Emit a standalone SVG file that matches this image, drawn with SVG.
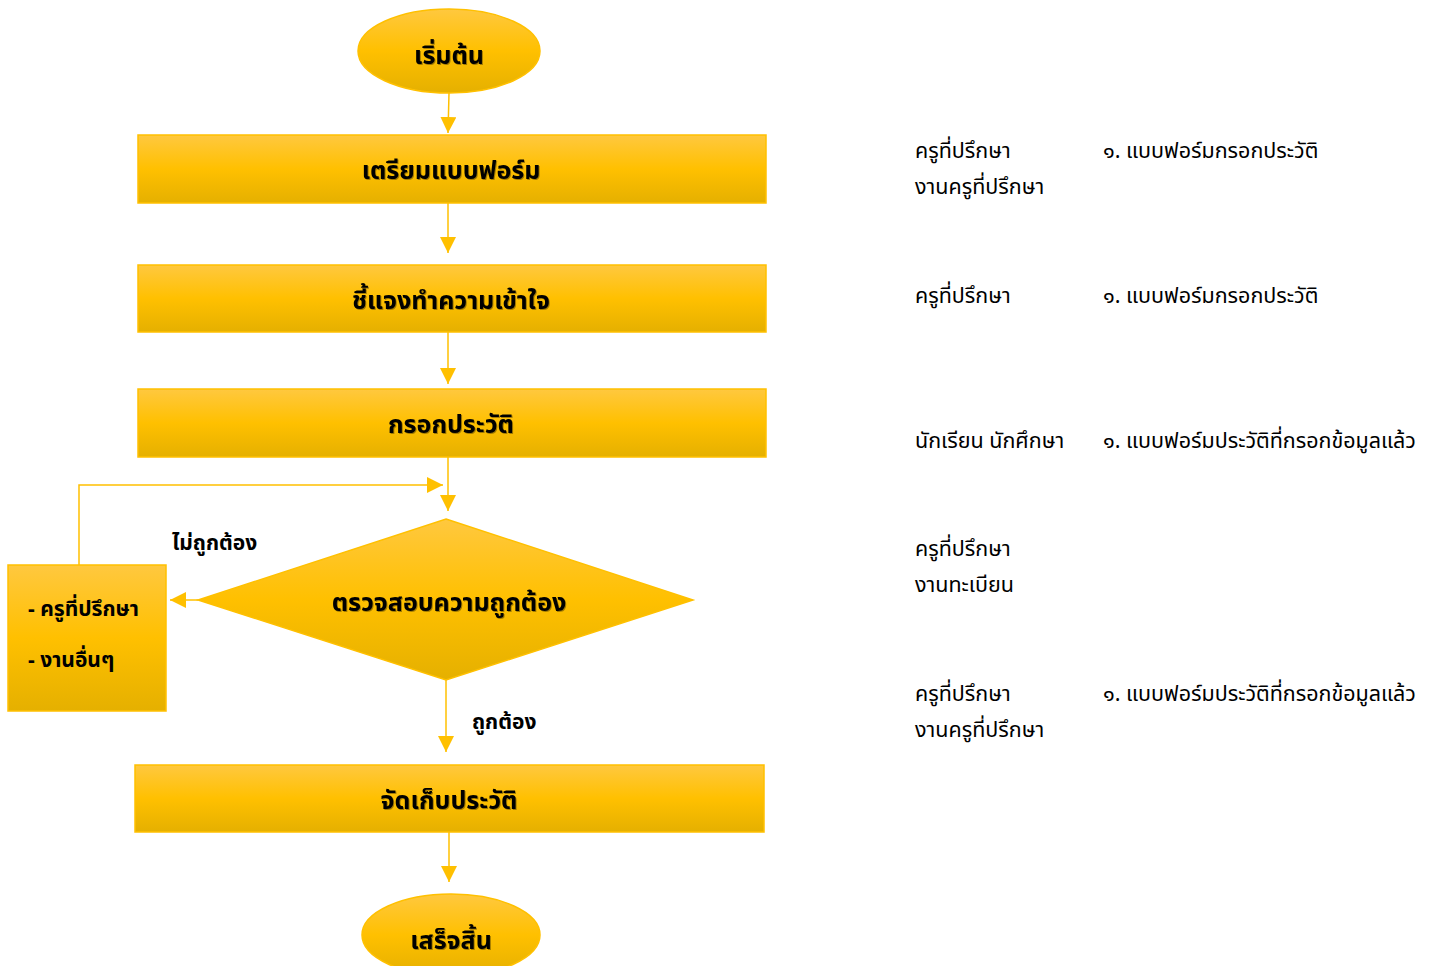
<svg xmlns="http://www.w3.org/2000/svg" width="1441" height="966" viewBox="0 0 1441 966">
<defs>
<linearGradient id="g" x1="0" y1="0" x2="0" y2="1">
<stop offset="0" stop-color="#FFC83F"/>
<stop offset="0.5" stop-color="#FFC000"/>
<stop offset="1" stop-color="#E5B000"/>
</linearGradient>
<marker id="ah" viewBox="0 0 10 10" refX="10" refY="5" markerWidth="16" markerHeight="16" markerUnits="userSpaceOnUse" orient="auto">
<path d="M0,0 L10,5 L0,10 z" fill="#FFC000"/>
</marker>
<filter id="sh" x="-10%" y="-10%" width="120%" height="130%">
<feDropShadow dx="1" dy="1" stdDeviation="0.6" flood-color="#000" flood-opacity="0.35"/>
</filter>
</defs>
<style>
.n{fill:url(#g);stroke:#FFC000;stroke-width:1.5}
.t{font-family:"Noto Sans Thai","Noto Sans","DejaVu Sans",sans-serif;font-weight:bold;font-size:25px;fill:#000;text-anchor:middle;filter:url(#sh)}
.s{font-family:"Noto Sans Thai","Noto Sans","DejaVu Sans",sans-serif;font-weight:bold;font-size:21px;fill:#000}
.r{font-family:"Noto Sans Thai","Noto Sans","DejaVu Sans",sans-serif;font-size:21.5px;fill:#000}
.c{fill:none;stroke:#FFC000;stroke-width:1.5;marker-end:url(#ah)}
</style>
<g id="connectors">
<path class="c" d="M449,93 L448,133"/>
<path class="c" d="M448,203 L448,253"/>
<path class="c" d="M448,332 L448,384"/>
<path class="c" d="M448,457 L448,511"/>
<path class="c" d="M79,565 L79,485 L443,485"/>
<path class="c" d="M198,600 L170,600"/>
<path class="c" d="M446,680 L446,752"/>
<path class="c" d="M449,832 L449,882"/>
<text class="s" x="172" y="550">ไม่ถูกต้อง</text>
<text class="s" x="472" y="729">ถูกต้อง</text>
</g>
<g id="start">
<ellipse class="n" cx="449" cy="51" rx="91" ry="42"/>
<text class="t" x="449" y="64">เริ่มต้น</text>
</g>
<g id="prepare">
<rect class="n" x="138" y="135" width="628" height="68"/>
<text class="t" x="451" y="179">เตรียมแบบฟอร์ม</text>
</g>
<g id="explain">
<rect class="n" x="138" y="265" width="628" height="67"/>
<text class="t" x="451" y="309">ชี้แจงทำความเข้าใจ</text>
</g>
<g id="fill">
<rect class="n" x="138" y="389" width="628" height="68"/>
<text class="t" x="451" y="433">กรอกประวัติ</text>
</g>
<g id="check">
<polygon class="n" points="446,519 693,600 446,680 198,600"/>
<text class="t" x="449" y="611">ตรวจสอบความถูกต้อง</text>
</g>
<g id="others">
<rect class="n" x="8" y="565" width="158" height="146"/>
<text class="s" x="28" y="616">- ครูที่ปรึกษา</text>
<text class="s" x="28" y="667">- งานอื่นๆ</text>
</g>
<g id="store">
<rect class="n" x="135" y="765" width="629" height="67"/>
<text class="t" x="449" y="809">จัดเก็บประวัติ</text>
</g>
<g id="end">
<ellipse class="n" cx="451" cy="935" rx="89" ry="41"/>
<text class="t" x="451" y="949">เสร็จสิ้น</text>
</g>
<g id="notes">
<text class="r" x="915" y="158">ครูที่ปรึกษา</text>
<text class="r" x="915" y="194">งานครูที่ปรึกษา</text>
<text class="r" x="1103" y="158">๑. แบบฟอร์มกรอกประวัติ</text>
<text class="r" x="915" y="303">ครูที่ปรึกษา</text>
<text class="r" x="1103" y="303">๑. แบบฟอร์มกรอกประวัติ</text>
<text class="r" x="915" y="448">นักเรียน นักศึกษา</text>
<text class="r" x="1103" y="448">๑. แบบฟอร์มประวัติที่กรอกข้อมูลแล้ว</text>
<text class="r" x="915" y="556">ครูที่ปรึกษา</text>
<text class="r" x="915" y="592">งานทะเบียน</text>
<text class="r" x="915" y="701">ครูที่ปรึกษา</text>
<text class="r" x="915" y="737">งานครูที่ปรึกษา</text>
<text class="r" x="1103" y="701">๑. แบบฟอร์มประวัติที่กรอกข้อมูลแล้ว</text>
</g>
</svg>
